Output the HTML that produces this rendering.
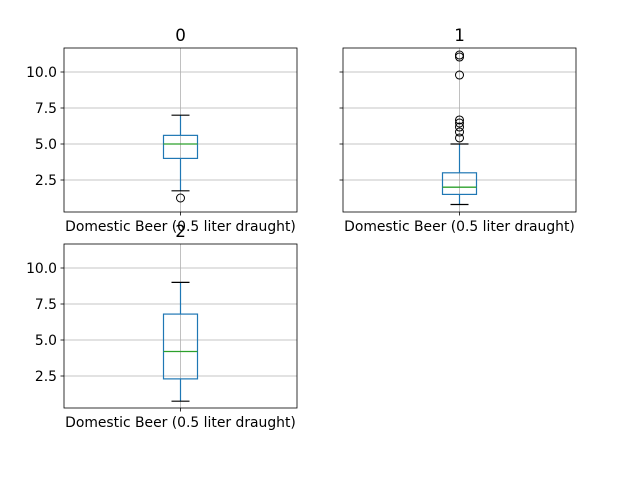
<!DOCTYPE html>
<html><head><meta charset="utf-8"><style>body{margin:0;background:#fff}svg{display:block}</style></head>
<body>
<svg id="c" width="640" height="480" xmlns="http://www.w3.org/2000/svg" font-family="DejaVu Sans, Liberation Sans, sans-serif"></svg>
<script>
const titles = ["0","1","2"];
const category = "Domestic Beer (0.5 liter draught)";
const whiskerLow = [1.75, 0.8, 0.75];
const q1 = [4.0, 1.5, 2.3];
const median = [5.0, 2.0, 4.2];
const q3 = [5.6, 3.0, 6.8];
const whiskerHigh = [7.0, 5.0, 9.0];
const fliers = [[1.25],[11.18,11.04,9.79,6.67,6.46,6.18,5.83,5.42],[]];
const yTicks = [2.5, 5.0, 7.5, 10.0];
const yTickLabels = ["2.5","5.0","7.5","10.0"];
const yMin = 0.278, yMax = 11.667;

const svg = document.getElementById('c');
const NS = 'http://www.w3.org/2000/svg';
function mk(t, a, p){const e=document.createElementNS(NS,t);for(const k in a)e.setAttribute(k,a[k]);(p||svg).appendChild(e);return e;}
const panels = [{x:64,y:48},{x:343,y:48},{x:64,y:244}];
const W=233,H=164;
panels.forEach((p,i)=>{
  const g=mk('g',{});
  
  
  const ys=v=>p.y+H-(v-yMin)/(yMax-yMin)*H;
  const cx=p.x+W/2;
  yTicks.forEach((t,j)=>{
    const y=ys(t);
    const gl=mk('line',{x1:p.x,x2:p.x+W,y1:y,y2:y,stroke:'#b0b0b0','stroke-width':0.8},g);
    
    
    mk('line',{x1:p.x-3.5,x2:p.x,y1:y,y2:y,stroke:'#000','stroke-width':0.8},g);
    if(i!==1){
      const tx=mk('text',{x:p.x-7,y:y+5,'text-anchor':'end','font-size':13.9},g);
      tx.textContent=yTickLabels[j];
      
      
    }
  });
  mk('line',{x1:cx,x2:cx,y1:p.y,y2:p.y+H,stroke:'#b0b0b0','stroke-width':0.8},g);
  mk('line',{x1:cx,x2:cx,y1:p.y+H,y2:p.y+H+3.5,stroke:'#000','stroke-width':0.8},g);
  const bw=34;
  const blue='#1f77b4';
  mk('line',{x1:cx,x2:cx,y1:ys(q3[i]),y2:ys(whiskerHigh[i]),stroke:blue,'stroke-width':1.2},g);
  mk('line',{x1:cx,x2:cx,y1:ys(q1[i]),y2:ys(whiskerLow[i]),stroke:blue,'stroke-width':1.2},g);
  mk('line',{x1:cx-9,x2:cx+9,y1:ys(whiskerHigh[i]),y2:ys(whiskerHigh[i]),stroke:'#000','stroke-width':1.2},g);
  mk('line',{x1:cx-9,x2:cx+9,y1:ys(whiskerLow[i]),y2:ys(whiskerLow[i]),stroke:'#000','stroke-width':1.2},g);
  const box=mk('rect',{x:cx-bw/2,y:ys(q3[i]),width:bw,height:ys(q1[i])-ys(q3[i]),fill:'none',stroke:blue,'stroke-width':1.2},g);
  
  
  mk('line',{x1:cx-bw/2,x2:cx+bw/2,y1:ys(median[i]),y2:ys(median[i]),stroke:'#2ca02c','stroke-width':1.3},g);
  fliers[i].forEach(v=>{
    const c=mk('circle',{cx:cx,cy:ys(v),r:4,fill:'none',stroke:'#000','stroke-width':1},g);
    
    
  });
  mk('rect',{x:p.x,y:p.y,width:W,height:H,fill:'none',stroke:'#000','stroke-width':0.8},g);
  const tt=mk('text',{x:cx,y:p.y-7,'text-anchor':'middle','font-size':16.7},g);
  tt.textContent=titles[i];
  
  
  const xl=mk('text',{x:cx,y:p.y+H+19,'text-anchor':'middle','font-size':13.9},g);
  xl.textContent=category;
  
  
});
</script>
</body></html>
